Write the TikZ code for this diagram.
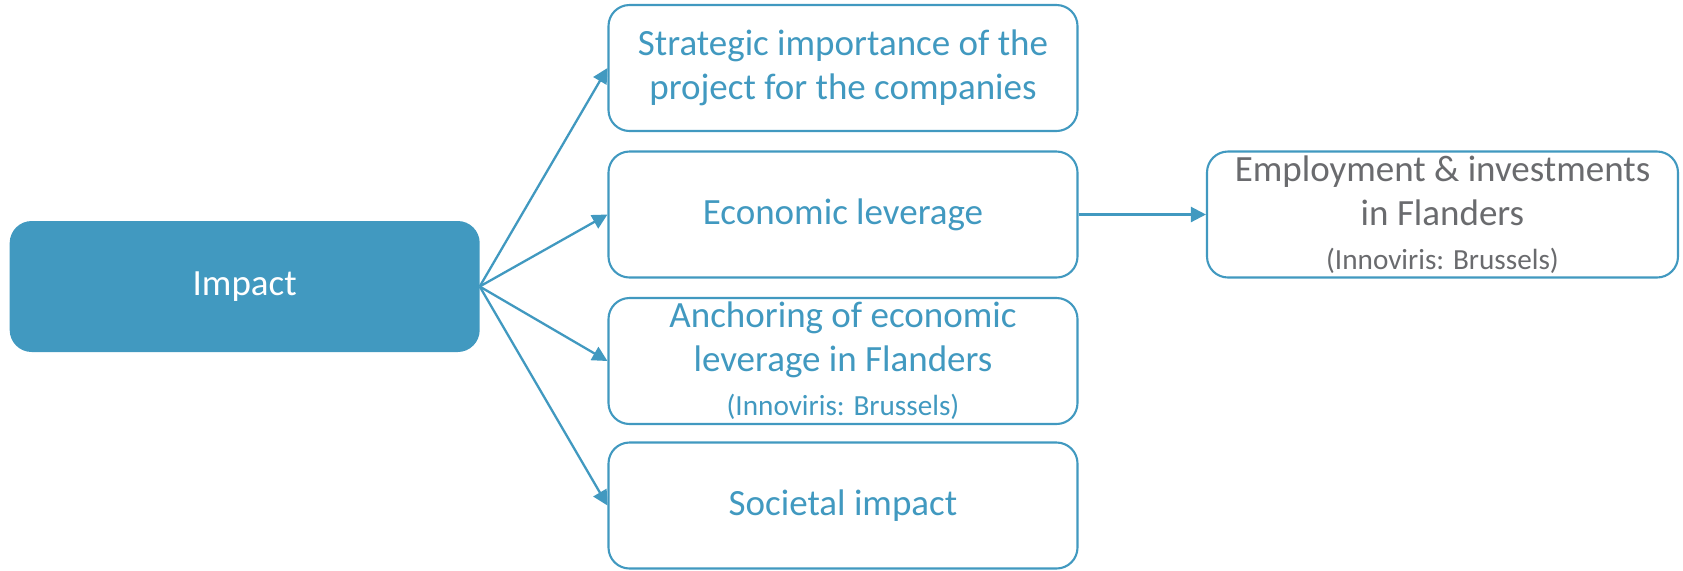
\documentclass[tikz,border=0pt]{standalone}
\usepackage{fontspec}
\setmainfont{Carlito}
\usetikzlibrary{arrows.meta}
\definecolor{iblue}{HTML}{4199C0}
\definecolor{igray}{HTML}{6A6B6E}
\begin{document}
\begin{tikzpicture}[x=0.5pt,y=-0.5pt,
  bigtext/.style={font=\fontsize{18.5}{22}\selectfont},
  impactbox/.style={draw=iblue,fill=iblue,line width=1pt,rounded corners=10.5pt,
    minimum width=234pt,minimum height=64.5pt,text=white,bigtext,inner sep=0pt},
  itembox/.style={draw=iblue,fill=white,line width=1.05pt,rounded corners=10.5pt,
    minimum width=234.5pt,minimum height=63pt,text=iblue,bigtext,align=center,inner sep=0pt},
  conn/.style={draw=iblue,line width=1.15pt,-{Triangle[length=7.5pt,width=7.5pt]}}
]
\useasboundingbox (0,0) rectangle (1683,570);
\newcommand{\smalltxt}[1]{{\fontsize{14.6}{18}\selectfont #1}}
\node[impactbox] (impact) at (244.7,286.5) {Impact};
\node[itembox] (s1) at (843,68) {Strategic importance of the\\project for the companies};
\node[itembox] (s2) at (843,214.5) {Economic leverage};
\node[itembox] (s3) at (843,361) {Anchoring of economic\\leverage in Flanders\\\smalltxt{(Innoviris: Brussels)}};
\node[itembox] (s4) at (843,505.5) {Societal impact};
\node[itembox,text=igray,minimum width=235.5pt] (s5) at (1442.5,214.5) {Employment \& investments\\in Flanders\\\smalltxt{(Innoviris: Brussels)}};
\draw[conn] (impact.east) -- (s1.west);
\draw[conn] (impact.east) -- (s2.west);
\draw[conn] (impact.east) -- (s3.west);
\draw[conn] (impact.east) -- (s4.west);
\draw[conn] (s2.east) -- (s5.west);
\end{tikzpicture}
\end{document}
